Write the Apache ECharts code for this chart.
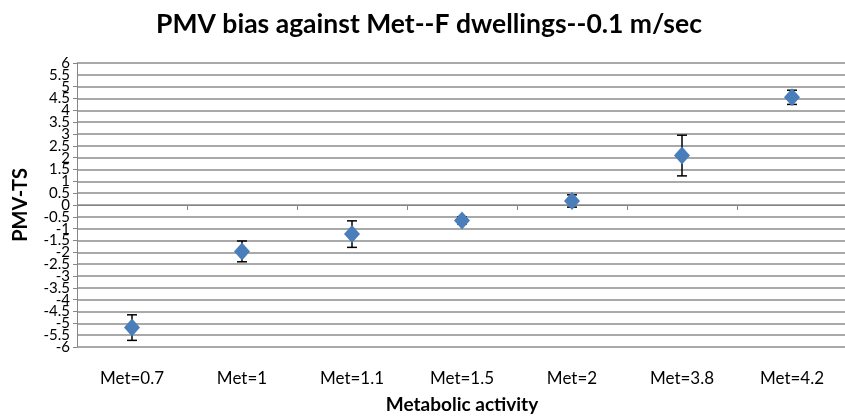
<!DOCTYPE html>
<html>
<head>
<meta charset="utf-8">
<script src="https://cdn.jsdelivr.net/npm/echarts@6/dist/echarts.min.js"></script>
<style>
html,body{margin:0;padding:0;background:#fff;}
#chart{width:845px;height:416px;}
</style>
</head>
<body>
<div id="chart"></div>
<script>
var categories = ['Met=0.7', 'Met=1', 'Met=1.1', 'Met=1.5', 'Met=2', 'Met=3.8', 'Met=4.2'];
var means = [-5.18, -1.96, -1.23, -0.65, 0.17, 2.09, 4.55];
var errors = [0.54, 0.44, 0.56, 0.15, 0.26, 0.86, 0.30];
var yMin = -6, yMax = 6, yStep = 0.5;

var chart = echarts.init(document.getElementById('chart'));
var errData = categories.map(function (c, i) { return [i, means[i] - errors[i], means[i] + errors[i]]; });

var yLabelStyle = { color: '#000', fontSize: 15, lineHeight: 10, margin: 7, fontFamily: 'Lato', hideOverlap: false };

chart.setOption({
  backgroundColor: '#fff',
  animation: false,
  textStyle: { fontFamily: 'Lato' },
  title: {
    text: 'PMV bias against Met--F dwellings--0.1 m/sec',
    left: 424, top: 6, textAlign: 'center',
    textStyle: { fontFamily: 'Lato', fontWeight: 'bold', fontSize: 26.5, color: '#000' }
  },
  grid: { left: 77, top: 63, right: -2, bottom: 69, containLabel: false, outerBoundsMode: 'none' },
  xAxis: {
    type: 'category',
    data: categories,
    boundaryGap: true,
    name: 'Metabolic activity',
    nameLocation: 'middle',
    nameGap: 48,
    nameTextStyle: { fontFamily: 'Lato', fontWeight: 'bold', fontSize: 19, color: '#000' },
    axisLine: { lineStyle: { color: '#868686', width: 1 } },
    axisTick: { show: true, alignWithLabel: false, length: 5, lineStyle: { color: '#868686' } },
    axisLabel: { color: '#000', fontSize: 17, margin: 23, fontFamily: 'Lato', interval: 0 },
    splitLine: { show: false }
  },
  yAxis: [
    {
      type: 'value',
      min: yMin, max: yMax, interval: yStep,
      name: 'PMV-TS',
      nameLocation: 'middle',
      nameGap: 46,
      nameRotate: 90,
      nameTextStyle: { fontFamily: 'Lato', fontWeight: 'bold', fontSize: 20, color: '#000' },
      axisLine: { show: true, lineStyle: { color: '#868686', width: 1 } },
      axisTick: { show: true, length: 4, lineStyle: { color: '#868686' } },
      axisLabel: Object.assign({}, yLabelStyle, { showMinLabel: true, showMaxLabel: true,
        formatter: function (v) { return String(v); } }),
      splitLine: { show: true, lineStyle: { color: '#8c8c8c', width: 1.5 } }
    },
    {
      type: 'value',
      position: 'left',
      min: yMin, max: yMax, interval: yStep,
      axisLine: { show: false },
      axisTick: { show: false },
      splitLine: { show: false },
      axisLabel: Object.assign({}, yLabelStyle, { showMinLabel: false, showMaxLabel: false,
        formatter: function (v) { return (v === yMin + yStep || v === yMax - yStep) ? String(v) : ''; } })
    }
  ],
  series: [
    {
      type: 'custom',
      data: errData,
      z: 3,
      renderItem: function (params, api) {
        var x = api.value(0);
        var lo = api.coord([x, api.value(1)]);
        var hi = api.coord([x, api.value(2)]);
        var cap = 5;
        var style = { stroke: '#000', lineWidth: 1.5 };
        return {
          type: 'group',
          children: [
            { type: 'line', shape: { x1: lo[0], y1: lo[1], x2: hi[0], y2: hi[1] }, style: style },
            { type: 'line', shape: { x1: lo[0] - cap, y1: lo[1], x2: lo[0] + cap, y2: lo[1] }, style: style },
            { type: 'line', shape: { x1: hi[0] - cap, y1: hi[1], x2: hi[0] + cap, y2: hi[1] }, style: style }
          ]
        };
      }
    },
    {
      type: 'scatter',
      data: means,
      symbol: 'diamond',
      symbolSize: [16, 18],
      z: 4,
      itemStyle: { color: '#4a7ebb', opacity: 1 }
    }
  ]
});
</script>
</body>
</html>
